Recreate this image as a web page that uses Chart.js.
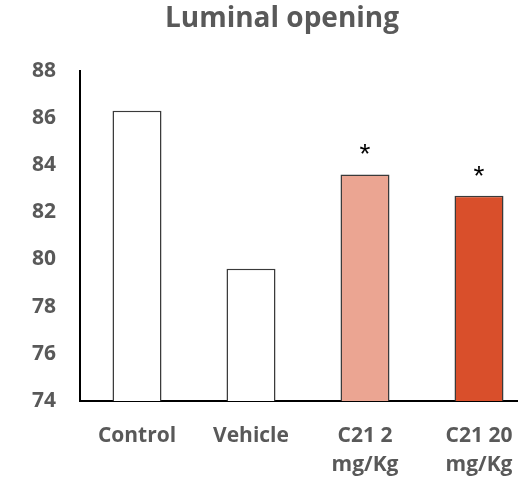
<!DOCTYPE html>
<html>
<head>
<meta charset="utf-8">
<script src="https://cdn.jsdelivr.net/npm/chart.js@4"></script>
<style>
  html, body { margin: 0; padding: 0; background: #ffffff; overflow: hidden; width: 518px; height: 483px; }
  #wrap { position: absolute; left: 0; top: 0; width: 536px; height: 483px; }
</style>
</head>
<body>
<div id="wrap"><canvas id="c" width="536" height="483"></canvas></div>
<script>
const categories = [["Control"], ["Vehicle"], ["C21 2", "mg/Kg"], ["C21 20", "mg/Kg"]];
const values = [86.3, 79.6, 83.6, 82.7];
const fillColors = ["#ffffff", "#ffffff", "#eba592", "#d94f2b"];
const markers = ["", "", "*", "*"];
const yMin = 74, yMax = 88, yStep = 2;

const markerPlugin = {
  id: 'markers',
  afterDatasetsDraw(chart) {
    const ctx = chart.ctx;
    const meta = chart.getDatasetMeta(0);
    ctx.save();
    ctx.fillStyle = '#000000';
    ctx.font = '28px "Liberation Sans", sans-serif';
    ctx.textAlign = 'center';
    ctx.textBaseline = 'alphabetic';
    meta.data.forEach((bar, i) => {
      if (markers[i]) ctx.fillText(markers[i], bar.x, bar.y - 11);
    });
    ctx.restore();
  }
};

new Chart(document.getElementById('c'), {
  type: 'bar',
  data: {
    labels: categories,
    datasets: [{
      data: values,
      backgroundColor: fillColors,
      borderColor: '#3a3a3a',
      borderWidth: 1.5,
      borderSkipped: 'bottom',
      barPercentage: 0.43,
      categoryPercentage: 1.0
    }]
  },
  options: {
    responsive: false,
    animation: false,
    devicePixelRatio: 1,
    layout: { padding: { left: 28, right: 0, top: 0, bottom: 0 } },
    plugins: {
      legend: { display: false },
      tooltip: { enabled: false },
      title: {
        display: true,
        text: 'Luminal opening',
        color: '#595959',
        font: { family: '"Open Sans", sans-serif', size: 28, weight: 'bold', lineHeight: 1.2 },
        padding: { top: 2, bottom: 35 }
      }
    },
    scales: {
      x: {
        grid: { display: false, drawTicks: false },
        border: { display: true, color: '#000000', width: 2 },
        ticks: {
          color: '#595959',
          font: { family: '"Open Sans", sans-serif', size: 21, weight: 'bold', lineHeight: 1.4 },
          padding: 20,
          maxRotation: 0,
          autoSkip: false
        },
        afterFit(scale) { scale.height = 82; }
      },
      y: {
        min: yMin,
        max: yMax,
        grid: { display: false, drawTicks: false },
        border: { display: true, color: '#000000', width: 2 },
        ticks: {
          stepSize: yStep,
          color: '#595959',
          font: { family: '"Open Sans", sans-serif', size: 21, weight: 'bold' },
          padding: 24
        },
        afterFit(scale) { scale.width = 52; }
      }
    }
  },
  plugins: [markerPlugin]
});
</script>
</body>
</html>
